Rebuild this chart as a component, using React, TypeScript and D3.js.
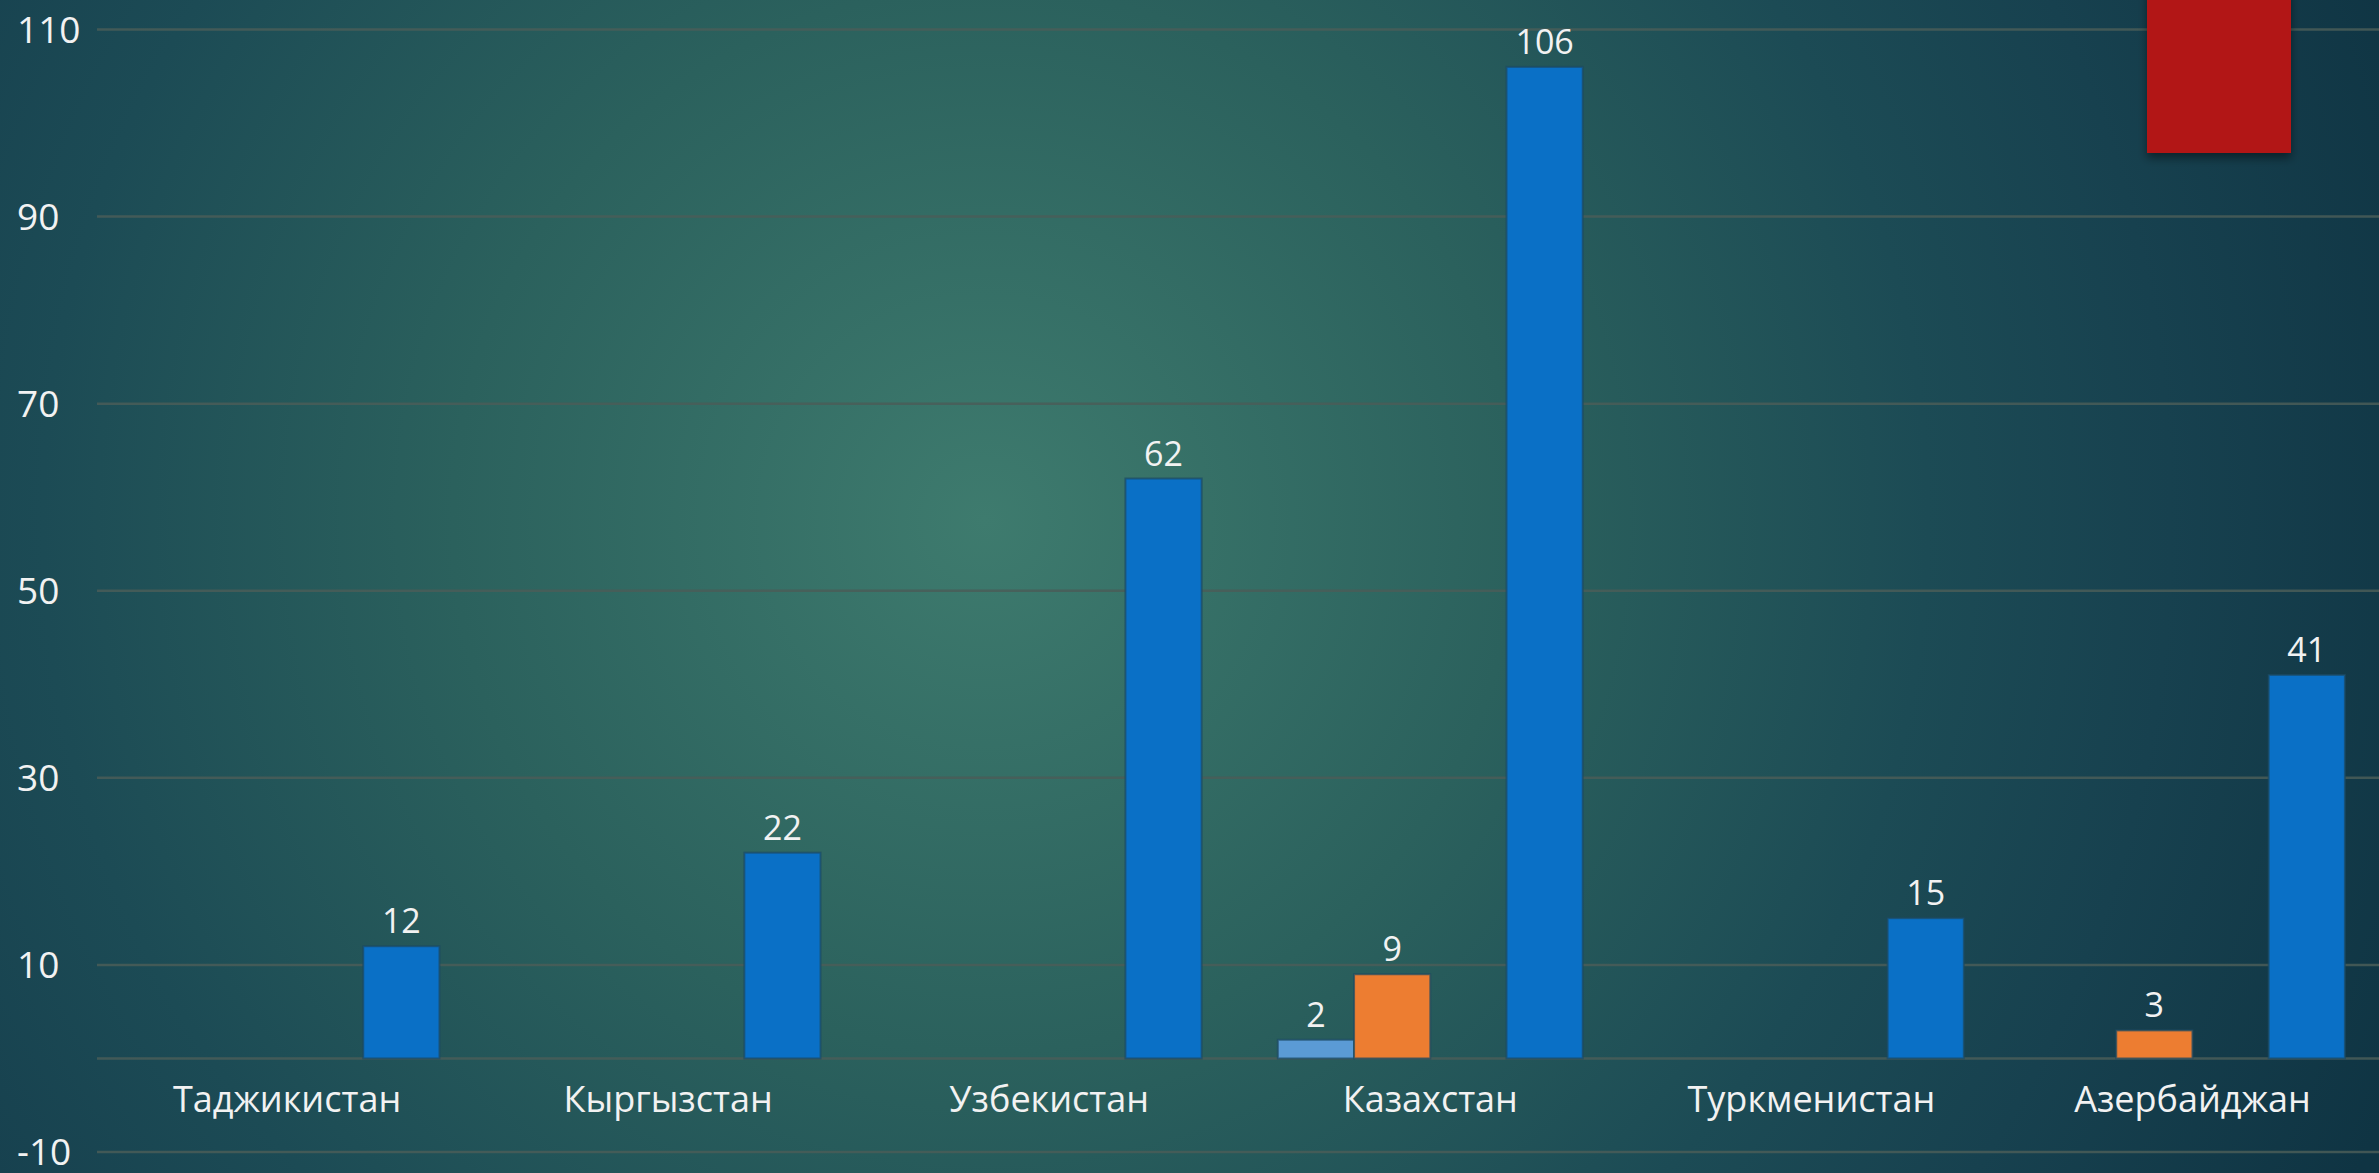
import * as React from "react";
import { scaleBand, scaleLinear } from "d3";

const W = 2379;
const H = 1173;

// data
const categories = ["Таджикистан", "Кыргызстан", "Узбекистан", "Казахстан", "Туркменистан", "Азербайджан"];
const seriesKeys = ["s1", "s2", "s3", "s4"];
const series1 = [null, null, null, 2, null, null];
const series2 = [null, null, null, 9, null, 3];
const series3 = [null, null, null, null, null, null];
const series4 = [12, 22, 62, 106, 15, 41];
const yTicks = [-10, 10, 30, 50, 70, 90, 110];

const colors = {
    s1: "#5b9bd5",
    s2: "#ed7d31",
    s3: "#a5a5a5",
    s4: "#0a70c6"
};

// decorative slide element in the top-right corner
const redShape = { x: 2147, y: -10, w: 144, h: 163 };

function BarChart() {
    const allSeries = { s1: series1, s2: series2, s3: series3, s4: series4 };

    // scales
    const xScale = scaleBand()
        .domain(categories)
        .range([96.5, 2383])
        .paddingInner(0.2)
        .paddingOuter(0.1);

    const innerScale = scaleBand()
        .domain(seriesKeys)
        .range([0, xScale.bandwidth()]);

    const yScale = scaleLinear()
        .domain([-10, 110])
        .range([1152, 29.5]);

    const bars = [];
    categories.forEach((cat, i) => {
        seriesKeys.forEach(key => {
            const v = allSeries[key][i];
            if (v == null) return;
            bars.push({ cat, key, value: v });
        });
    });

    return (
        <svg width={W} height={H} style={{ display: "block" }}>
            <defs>
                <radialGradient id="bg" gradientUnits="userSpaceOnUse" cx={985} cy={520} r={1520}>
                    <stop offset="0" stopColor="#3e7b6e" />
                    <stop offset="0.35" stopColor="#2b615d" />
                    <stop offset="0.62" stopColor="#1c4b55" />
                    <stop offset="0.78" stopColor="#17414f" />
                    <stop offset="1" stopColor="#0f3443" />
                </radialGradient>
                <filter id="shadow" x="-20%" y="-20%" width="140%" height="150%">
                    <feDropShadow dx="0" dy="5" stdDeviation="5" floodColor="#000" floodOpacity="0.45" />
                </filter>
            </defs>
            <rect x={0} y={0} width={W} height={H} fill="url(#bg)" />

            {/* gridlines */}
            {yTicks.map(t => (
                <line key={t} x1={97} x2={W} y1={yScale(t)} y2={yScale(t)}
                    stroke="#4a5d58" strokeOpacity={0.85} strokeWidth={2.5} />
            ))}
            <line x1={97} x2={W} y1={yScale(0)} y2={yScale(0)}
                stroke="#4a5d58" strokeOpacity={0.85} strokeWidth={2.5} />

            {/* y tick labels */}
            {yTicks.map(t => (
                <text key={"t" + t} x={17} y={yScale(t)} dy="0.36em"
                    fill="#f2f2f2" fontSize={37} fontFamily="'Open Sans', sans-serif">
                    {t}
                </text>
            ))}

            {/* bars */}
            {bars.map(b => {
                const x = xScale(b.cat) + innerScale(b.key);
                const y = yScale(Math.max(b.value, 0));
                const h = Math.abs(yScale(b.value) - yScale(0));
                return (
                    <g key={b.cat + b.key}>
                        <rect x={x} y={y} width={innerScale.bandwidth()} height={h}
                            fill={colors[b.key]} stroke="#1d4a63" strokeOpacity={0.7} strokeWidth={2} />
                        <text x={x + innerScale.bandwidth() / 2} y={y - 13} textAnchor="middle"
                            fill="#f2f2f2" fontSize={34} fontFamily="'Open Sans', sans-serif">
                            {b.value}
                        </text>
                    </g>
                );
            })}

            {/* category labels */}
            {categories.map(c => (
                <text key={c} x={xScale(c) + xScale.bandwidth() / 2} y={1112} textAnchor="middle"
                    fill="#f2f2f2" fontSize={36} fontFamily="'Open Sans', sans-serif">
                    {c}
                </text>
            ))}

            <rect x={redShape.x} y={redShape.y} width={redShape.w} height={redShape.h}
                fill="#b21614" filter="url(#shadow)" />
        </svg>
    );
}

export default function App() {
    React.useEffect(() => {
        document.body.style.margin = "0";
    }, []);
    return <BarChart />;
}
